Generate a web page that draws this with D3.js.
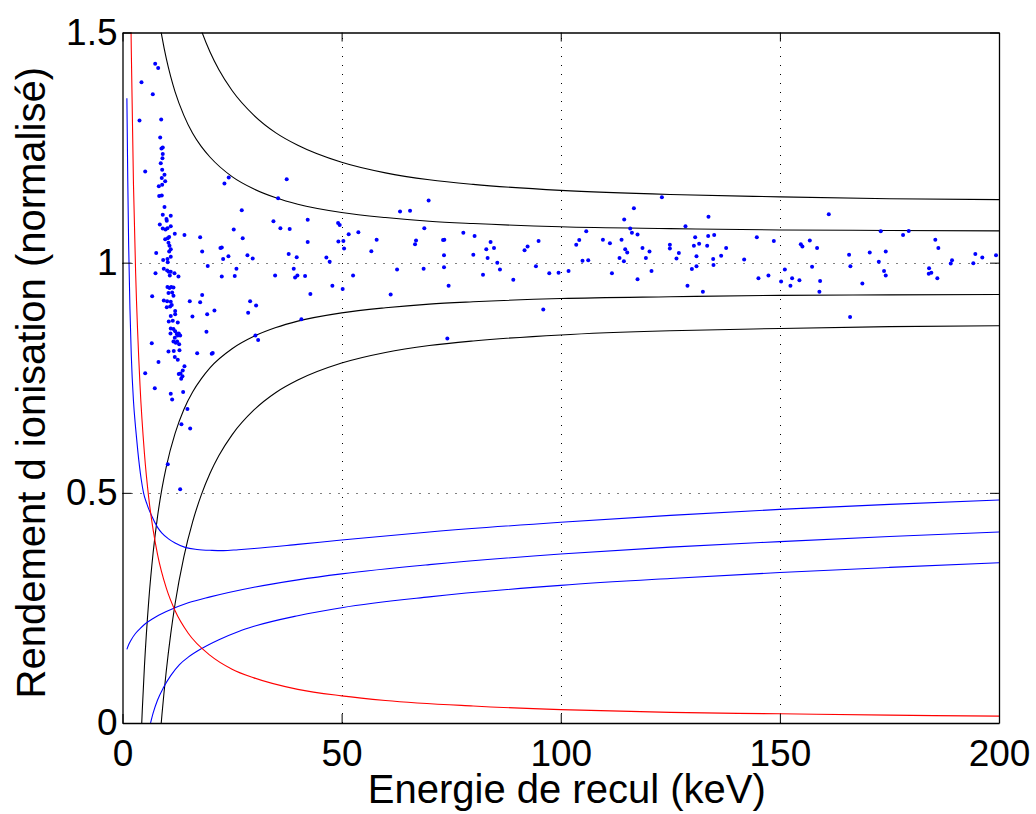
<!DOCTYPE html>
<html><head><meta charset="utf-8">
<script src="https://cdn.jsdelivr.net/npm/d3@7"></script>
<style>
body{margin:0;background:#fff}
svg{display:block}
text{font-family:"Liberation Sans",Arial,Helvetica,sans-serif;fill:#000}
</style>
</head><body>
<svg id="chart" width="1036" height="814"></svg>
<script>
// ---------- data ----------
const xTicks = [0, 50, 100, 150, 200];
const xTickLabels = ["0", "50", "100", "150", "200"];
const yTicks = [0, 0.5, 1, 1.5];
const yTickLabels = ["0", "0.5", "1", "1.5"];
const xLabel = "Energie de recul (keV)";
const yLabel = "Rendement d ionisation (normalisé)";

// recoil events: energy (keV) and normalised ionisation yield
const eventE = [7.46,8.14,4.33,6.91,3.88,8.83,8.60,8.89,9.19,9.19,9.12,8.73,5.18,9.05,9.58,8.96,9.74,8.28,9.05,8.37,8.96,9.58,9.19,10.03,11.01,10.10,8.51,9.19,9.81,10.26,11.01,11.93,14.14,9.74,10.33,10.65,10.49,10.72,7.69,10.65,11.01,11.01,10.26,9.28,7.53,10.33,9.42,10.19,10.56,11.01,11.86,12.77,10.79,17.72,18.18,22.35,22.65,22.96,24.17,19.45,22.65,25.38,25.61,26.0,23.26,24.24,10.26,10.72,11.11,11.63,11.33,10.49,11.63,6.77,9.42,10.19,11.01,11.24,10.88,10.10,12.02,12.02,11.01,18.18,17.72,15.35,20.98,19.32,15.96,10.56,11.47,12.61,11.01,11.63,10.95,12.02,12.38,12.84,13.16,12.61,11.93,11.63,12.47,12.15,12.93,6.68,10.49,11.70,13.0,19.16,20.36,20.59,17.04,11.93,12.61,8.21,5.18,14.14,13.75,12.84,13.23,13.68,13.39,7.37,13.84,11.01,11.33,14.82,13.45,15.44,10.33,13.16,
37.47,35.51,27.21,34.44,36.03,38.15,27.43,28.51,29.71,37.92,39.75,34.82,39.07,39.38,39.91,29.12,30.49,28.67,30.33,30.95,
42.26,42.26,41.66,42.87,40.82,46.52,47.27,47.89,49.19,49.56,49.26,50.40,50.56,50.24,51.61,52.61,53.82,56.78,57.99,61.19,62.65,63.33,65.61,66.75,66.98,68.87,68.71,69.85,73.14,73.43,73.36,73.36,74.41,74.12,77.77,80.05,80.34,82.26,83.01,83.31,83.99,84.77,85.52,86.13,89.17,91.74,92.43,94.34,94.94,96.01,97.38,99.50,101.78,103.53,104.22,104.97,105.82,106.27,109.62,111.22,111.68,113.41,113.87,114.48,114.41,114.71,115.17,115.85,116.24,116.69,117.52,117.52,118.65,119.43,120.25,
120.71,123.08,124.90,124.90,126.41,126.95,128.46,128.92,129.92,130.38,130.67,130.97,130.97,131.58,132.43,133.41,133.64,133.71,134.78,134.85,135.01,136.60,137.74,141.85,144.74,145.11,147.39,148.62,150.28,151.13,152.41,152.79,154.46,154.78,155.14,156.83,157.35,158.49,159.02,159.18,161.16,165.79,166.09,166.02,168.82,170.51,172.57,173.02,173.77,174.16,174.16,178.11,179.40,184.04,183.97,184.56,185.47,185.93,186.16,188.99,189.28,194.14,194.60,196.19,199.32];
const eventQ = [1.432,1.423,1.392,1.366,1.309,1.311,1.272,1.248,1.250,1.236,1.227,1.216,1.198,1.202,1.191,1.184,1.177,1.166,1.169,1.145,1.146,1.121,1.104,1.095,1.102,1.091,1.083,1.074,1.072,1.075,1.079,1.063,1.060,1.051,1.053,1.056,1.043,1.037,1.021,1.024,1.029,1.013,1.008,1.006,0.977,1.001,0.987,0.983,0.980,0.980,0.977,0.970,0.972,1.055,1.024,1.032,1.033,1.008,1.014,0.993,0.970,1.072,0.971,0.987,1.172,1.185,0.947,0.945,0.947,0.946,0.935,0.934,0.928,0.927,0.918,0.916,0.915,0.908,0.905,0.903,0.895,0.888,0.884,0.930,0.914,0.916,0.896,0.888,0.883,0.872,0.874,0.870,0.857,0.856,0.846,0.851,0.845,0.846,0.842,0.842,0.837,0.829,0.829,0.826,0.823,0.825,0.807,0.808,0.810,0.850,0.802,0.804,0.803,0.795,0.789,0.784,0.760,0.775,0.766,0.758,0.759,0.753,0.748,0.727,0.719,0.715,0.703,0.682,0.649,0.640,0.562,0.508,
1.181,1.140,1.114,1.090,1.075,1.073,1.053,1.016,1.009,1.019,1.012,0.972,0.987,0.968,0.972,0.916,0.907,0.891,0.842,0.832,
1.093,1.045,0.971,0.932,0.877,1.011,1.002,0.950,1.086,1.082,1.046,1.047,1.031,0.943,1.062,0.972,1.066,1.025,1.050,0.931,0.985,1.111,1.113,1.040,1.048,1.075,0.987,1.135,1.049,1.050,1.016,0.990,0.950,0.835,1.065,1.017,1.058,0.974,1.029,1.010,1.045,1.032,1.000,0.985,0.963,1.027,1.035,0.992,1.047,0.898,0.977,0.978,0.982,1.039,1.049,1.004,1.068,1.005,1.050,1.042,0.977,1.010,1.050,1.094,1.003,1.029,1.022,1.074,1.065,1.118,1.061,0.964,1.032,1.010,1.024,
0.982,1.142,1.039,1.031,1.009,1.021,1.079,0.950,0.986,1.037,1.055,1.014,0.992,1.041,0.937,1.037,1.058,1.100,1.008,0.995,1.060,1.015,1.032,1.007,1.055,0.966,0.972,1.047,0.959,0.985,0.950,0.966,0.962,1.040,1.035,1.048,0.991,1.032,0.937,0.960,1.105,1.017,0.992,0.882,0.955,1.022,1.002,1.068,0.982,1.024,0.972,1.060,1.069,0.988,0.976,0.978,1.050,0.966,1.032,0.998,1.005,0.999,1.019,1.011,1.016];

// electron-recoil band limits (black)
const gammaUpperOuter = [[16,1.563],[17,1.531],[18,1.504],[20,1.457],[22,1.419],[25,1.374],[30,1.320],[35,1.282],[40,1.255],[50,1.218],[60,1.195],[70,1.180],[80,1.170],[100,1.157],[125,1.148],[150,1.143],[175,1.139],[200,1.137]];
const gammaUpperInner = [[8,1.551],[8.5,1.519],[9,1.491],[10,1.443],[11,1.404],[12,1.371],[14,1.320],[16,1.281],[18,1.252],[20,1.229],[25,1.187],[30,1.160],[35,1.141],[40,1.127],[50,1.109],[60,1.098],[70,1.090],[80,1.085],[100,1.078],[125,1.074],[150,1.071],[175,1.070],[200,1.069]];
const gammaLowerInner = [[4.3,-0.021],[4.5,0.025],[5,0.122],[6,0.267],[7,0.371],[8,0.449],[9,0.509],[10,0.557],[12,0.629],[14,0.681],[16,0.719],[18,0.748],[20,0.772],[25,0.813],[30,0.840],[35,0.859],[40,0.873],[50,0.891],[60,0.902],[70,0.910],[80,0.915],[100,0.922],[125,0.926],[150,0.929],[175,0.930],[200,0.931]];
const gammaLowerOuter = [[8.7,-0.015],[9,0.018],[10,0.114],[11,0.193],[12,0.259],[14,0.361],[16,0.437],[18,0.496],[20,0.543],[22,0.581],[25,0.626],[30,0.680],[35,0.718],[40,0.745],[50,0.782],[60,0.805],[70,0.820],[80,0.830],[100,0.843],[125,0.852],[150,0.857],[175,0.861],[200,0.863]];

// nuclear-recoil band (blue)
const nuclearUpper = [[1.0,1.357],[1.1,1.27],[1.2,1.18],[1.4,1.04],[1.7,0.90],[2,0.80],[2.5,0.70],[3,0.64],[3.5,0.59],[4.26,0.53],[4.8,0.50],[5.6,0.475],[6.7,0.449],[8,0.425],[9,0.4125],[10.5,0.40],[12,0.391],[14.3,0.3815],[17,0.377],[20.4,0.375],[23,0.3745],[26.4,0.3765],[30,0.379],[40,0.388],[50,0.3976],[70,0.415],[100,0.436],[125,0.451],[150,0.464],[175,0.475],[200,0.4845]];
const nuclearMean = [[1,0.160],[1.5,0.172],[2,0.181],[3,0.195],[4,0.205],[5,0.214],[7,0.227],[10,0.242],[15,0.261],[20,0.274],[30,0.295],[40,0.311],[50,0.324],[70,0.344],[100,0.367],[125,0.382],[150,0.394],[175,0.405],[200,0.415]];
const nuclearLower = [[6.4,0],[7,0.022],[8,0.050],[9.35,0.077],[11,0.103],[13,0.127],[15,0.143],[18.1,0.162],[22,0.181],[26.5,0.199],[30,0.210],[40,0.233],[50,0.2505],[70,0.274],[100,0.299],[125,0.314],[150,0.327],[175,0.338],[200,0.348]];

// threshold (red)
const threshold = [[1.9,1.542],[2,1.465],[2.5,1.172],[3,0.977],[4,0.733],[5,0.586],[6,0.488],[7,0.419],[8,0.366],[10,0.293],[12,0.244],[15,0.195],[20,0.147],[25,0.117],[30,0.098],[40,0.073],[50,0.059],[60,0.049],[80,0.037],[100,0.029],[125,0.023],[150,0.020],[175,0.017],[200,0.015]];

// ---------- layout ----------
const L = 122.5, R = 999, T = 32.5, B = 723;
const svg = d3.select("#chart");
const x = d3.scaleLinear().domain([0, 200]).range([L, R]);
const y = d3.scaleLinear().domain([0, 1.5]).range([B, T]);

svg.append("rect").attr("x", L).attr("y", T).attr("width", R - L).attr("height", B - T).attr("fill", "#fff");

svg.append("defs").append("clipPath").attr("id", "clip")
  .append("rect").attr("x", L).attr("y", T).attr("width", R - L).attr("height", B - T);

// grid
const grid = svg.append("g").attr("stroke", "#000").attr("stroke-width", 1).attr("stroke-dasharray", "1,8");
grid.selectAll(".gx").data(xTicks.filter(v => v > 0 && v < 200)).join("line")
  .attr("x1", d => Math.round(x(d)) + 0.5).attr("x2", d => Math.round(x(d)) + 0.5)
  .attr("y1", B).attr("y2", T);
grid.selectAll(".gy").data(yTicks.filter(v => v > 0 && v < 1.5)).join("line")
  .attr("y1", d => Math.round(y(d)) + 0.5).attr("y2", d => Math.round(y(d)) + 0.5)
  .attr("x1", L).attr("x2", R);

// curves
const line = d3.line().x(d => x(d[0])).y(d => y(d[1])).curve(d3.curveMonotoneX);
const curves = svg.append("g").attr("clip-path", "url(#clip)").attr("fill", "none").attr("stroke-width", 1.1);
[gammaUpperOuter, gammaUpperInner, gammaLowerInner, gammaLowerOuter].forEach(c =>
  curves.append("path").datum(c).attr("d", line).attr("stroke", "#000"));
[nuclearUpper, nuclearMean, nuclearLower].forEach(c =>
  curves.append("path").datum(c).attr("d", line).attr("stroke", "#0000ff"));
curves.append("path").datum(threshold).attr("d", line).attr("stroke", "#ff0000");

// events
svg.append("g").attr("clip-path", "url(#clip)").selectAll("circle")
  .data(eventE.map((e, i) => [e, eventQ[i]])).join("circle")
  .attr("cx", d => x(d[0])).attr("cy", d => y(d[1])).attr("r", 2).attr("fill", "#0000ff");

// axes with inward ticks (MATLAB style)
const tickLen = 9;
const axB = svg.append("g").attr("transform", `translate(0,${B})`)
  .call(d3.axisBottom(x).tickValues(xTicks).tickFormat((d, i) => xTickLabels[i]).tickSizeInner(-tickLen).tickSizeOuter(0).tickPadding(17));
const axT = svg.append("g").attr("transform", `translate(0,${T})`)
  .call(d3.axisTop(x).tickValues(xTicks).tickFormat("").tickSizeInner(-tickLen).tickSizeOuter(0));
const axL = svg.append("g").attr("transform", `translate(${L},0)`)
  .call(d3.axisLeft(y).tickValues(yTicks).tickFormat((d, i) => yTickLabels[i]).tickSizeInner(-tickLen).tickSizeOuter(0).tickPadding(5));
const axR = svg.append("g").attr("transform", `translate(${R},0)`)
  .call(d3.axisRight(y).tickValues(yTicks).tickFormat("").tickSizeInner(-tickLen).tickSizeOuter(0));
[axB, axT, axL, axR].forEach(a => {
  a.select(".domain").attr("stroke", "#000").attr("stroke-width", 1.3);
  a.selectAll(".tick line").attr("stroke", "#000").attr("stroke-width", 1);
  a.selectAll("text").attr("font-size", 37).attr("font-family", '"Liberation Sans",Arial,sans-serif').attr("fill", "#000");
});

svg.append("text").attr("x", (L + R) / 2 + 6).attr("y", 803).attr("text-anchor", "middle")
  .attr("font-size", 40).text(xLabel);
svg.append("text").attr("transform", `translate(45,${(T + B) / 2 + 5}) rotate(-90)`).attr("text-anchor", "middle")
  .attr("font-size", 40).text(yLabel);
</script>
</body></html>
